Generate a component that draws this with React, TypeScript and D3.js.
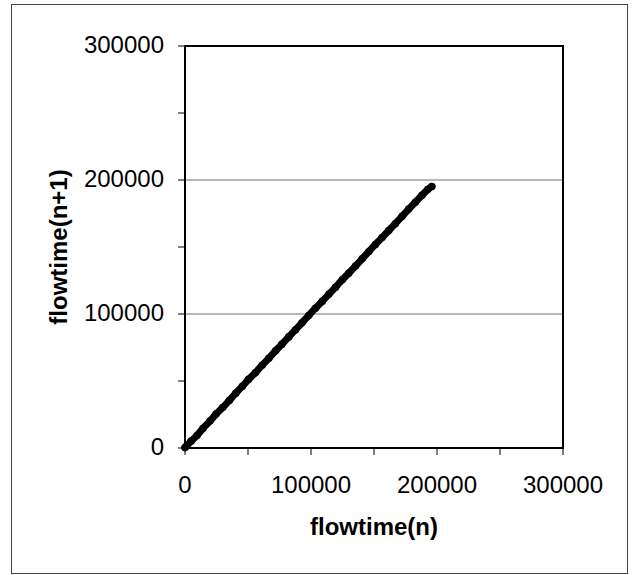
import React, { useEffect, useRef } from "react";
import * as d3 from "d3";

// flowtime(n) and flowtime(n+1) pairs
const flowN = [
  0, 1200, 4800, 9500, 14200, 19800, 24600, 29900, 35100, 40300, 45600, 50400,
  55800, 61200, 66500, 71900, 76800, 82300, 87600, 92800, 98200, 103500, 108900,
  114100, 119400, 124800, 129900, 135300, 140600, 145800, 151100, 156400, 161700,
  166900, 172300, 177500, 182800, 188100, 192600, 195900,
];
const flowN1 = [
  300, 1500, 5100, 9300, 14600, 20100, 25300, 30200, 35400, 40900, 46100, 51200,
  56100, 61800, 66900, 72600, 77300, 82900, 88100, 93400, 98900, 104300, 109400,
  114700, 119900, 125600, 130400, 135800, 141200, 146500, 151900, 157000, 162300,
  167400, 172900, 178300, 183400, 188600, 192900, 195200,
];

const xTicks = [0, 100000, 200000, 300000];
const yTicks = [0, 100000, 200000, 300000];
const minorTicks = [0, 50000, 100000, 150000, 200000, 250000, 300000];

export default function App() {
  const ref = useRef<SVGSVGElement>(null);

  useEffect(() => {
    const svg = d3.select(ref.current);
    svg.selectAll("*").remove();

    const plot = { left: 185, top: 46, right: 563, bottom: 448 };
    const font = "'Liberation Sans', Arial, sans-serif";

    svg
      .append("rect")
      .attr("x", 11.5)
      .attr("y", 4.5)
      .attr("width", 616)
      .attr("height", 569)
      .attr("fill", "#fff")
      .attr("stroke", "#444")
      .attr("stroke-width", 1);

    const x = d3.scaleLinear().domain([0, 300000]).range([plot.left, plot.right]);
    const y = d3.scaleLinear().domain([0, 300000]).range([plot.bottom, plot.top]);

    const g = svg.append("g");

    // gridlines
    g.selectAll("line.grid")
      .data(yTicks.filter((d) => d > 0 && d < 300000))
      .join("line")
      .attr("class", "grid")
      .attr("x1", plot.left)
      .attr("x2", plot.right)
      .attr("y1", (d) => y(d))
      .attr("y2", (d) => y(d))
      .attr("stroke", "#707070")
      .attr("stroke-width", 1);

    // minor tick marks
    g.selectAll("line.ytick")
      .data(minorTicks)
      .join("line")
      .attr("class", "ytick")
      .attr("x1", plot.left - 7)
      .attr("x2", plot.left)
      .attr("y1", (d) => y(d))
      .attr("y2", (d) => y(d))
      .attr("stroke", "#000");

    g.selectAll("line.xtick")
      .data(minorTicks)
      .join("line")
      .attr("class", "xtick")
      .attr("x1", (d) => x(d))
      .attr("x2", (d) => x(d))
      .attr("y1", plot.bottom)
      .attr("y2", plot.bottom + 7)
      .attr("stroke", "#000");

    // plot area frame
    g.append("rect")
      .attr("x", plot.left)
      .attr("y", plot.top)
      .attr("width", plot.right - plot.left)
      .attr("height", plot.bottom - plot.top)
      .attr("fill", "none")
      .attr("stroke", "#000")
      .attr("stroke-width", 2);

    // data
    const pts = flowN.map((v, i) => [v, flowN1[i]] as [number, number]);
    const line = d3
      .line<[number, number]>()
      .x((d) => x(d[0]))
      .y((d) => y(d[1]));

    g.append("path")
      .datum(pts)
      .attr("fill", "none")
      .attr("stroke", "#000")
      .attr("stroke-width", 7)
      .attr("stroke-linecap", "round")
      .attr("d", line);

    g.selectAll("circle")
      .data(pts)
      .join("circle")
      .attr("cx", (d) => x(d[0]))
      .attr("cy", (d) => y(d[1]))
      .attr("r", 3.8)
      .attr("fill", "#000");

    // tick labels
    g.selectAll("text.ylab")
      .data(yTicks)
      .join("text")
      .attr("class", "ylab")
      .attr("x", 164)
      .attr("y", (d) => y(d))
      .attr("dy", "0.3em")
      .attr("text-anchor", "end")
      .attr("font-family", font)
      .attr("font-size", 24)
      .text((d) => d);

    g.selectAll("text.xlab")
      .data(xTicks)
      .join("text")
      .attr("class", "xlab")
      .attr("x", (d) => x(d))
      .attr("y", 493)
      .attr("text-anchor", "middle")
      .attr("font-family", font)
      .attr("font-size", 24)
      .text((d) => d);

    // axis titles
    svg
      .append("text")
      .attr("x", 374)
      .attr("y", 535)
      .attr("text-anchor", "middle")
      .attr("font-family", font)
      .attr("font-weight", "bold")
      .attr("font-size", 24)
      .text("flowtime(n)");

    svg
      .append("text")
      .attr("transform", `translate(67, 247) rotate(-90)`)
      .attr("text-anchor", "middle")
      .attr("font-family", font)
      .attr("font-weight", "bold")
      .attr("font-size", 24)
      .text("flowtime(n+1)");
  }, []);

  return (
    <svg
      ref={ref}
      width={634}
      height={575}
      style={{ position: "absolute", left: 0, top: 0, background: "#fff" }}
    />
  );
}
